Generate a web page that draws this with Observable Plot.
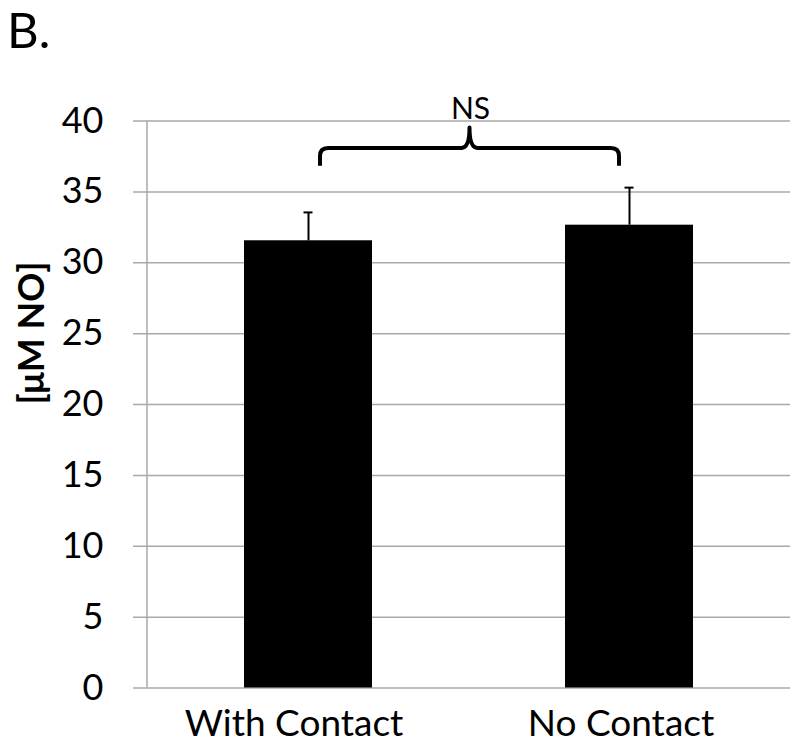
<!DOCTYPE html>
<html>
<head>
<meta charset="utf-8">
<script src="https://cdn.jsdelivr.net/npm/d3@7"></script>
<script src="https://cdn.jsdelivr.net/npm/@observablehq/plot@0.6"></script>
<style>
  html, body { margin: 0; padding: 0; background: #fff; }
  #chart svg { display: block; }
</style>
</head>
<body>
<div id="chart"></div>
<script>
const categories = ["With Contact", "No Contact"];
const means = [31.55, 32.65];
const upperErrors = [33.55, 35.3];
const yTicks = [0, 5, 10, 15, 20, 25, 30, 35, 40];
const yLabel = "[μM NO]";
const panelLabel = "B.";
const sigLabel = "NS";

const data = categories.map((c, i) => ({cat: c, mean: means[i], upper: upperErrors[i]}));

const FONT = "Lato, 'Open Sans', sans-serif";
const GRID = "#a9a9a9";
const labelShift = [-14, -8];

function annotations(index, scales, values, dims) {
  const g = d3.create("svg:g");
  const x = scales.x, y = scales.y;
  const bw = x.bandwidth();
  // y-axis line
  g.append("line")
    .attr("x1", dims.marginLeft).attr("x2", dims.marginLeft)
    .attr("y1", y(40)).attr("y2", y(0))
    .attr("stroke", GRID).attr("stroke-width", 1.5);
  // category labels
  categories.forEach((c, i) => {
    g.append("text")
      .attr("x", x(c) + bw / 2 + labelShift[i]).attr("y", y(0) + 48)
      .attr("text-anchor", "middle")
      .attr("font-family", FONT).attr("font-size", 37)
      .attr("fill", "#000")
      .text(c);
  });
  // panel label
  g.append("text")
    .attr("x", 7).attr("y", 47.5)
    .attr("text-anchor", "start")
    .attr("font-family", FONT).attr("font-size", 49)
    .attr("fill", "#000")
    .text(panelLabel);
  // brace
  const x0 = x(categories[0]) + bw / 2 + 12;
  const x1 = x(categories[1]) + bw / 2 - 10;
  const xm = (x0 + x1) / 2;
  const yH = y(38.06), yEnd = y(36.8), yPk = y(39.5);
  const r = 8;
  const path = `M${x0},${yEnd} L${x0},${yH + r} Q${x0},${yH} ${x0 + r},${yH} L${xm - r},${yH} Q${xm},${yH} ${xm},${yPk} Q${xm},${yH} ${xm + r},${yH} L${x1 - r},${yH} Q${x1},${yH} ${x1},${yH + r} L${x1},${yEnd}`;
  g.append("path").attr("d", path).attr("fill", "none")
    .attr("stroke", "#000").attr("stroke-width", 4).attr("stroke-linejoin", "round");
  g.append("text")
    .attr("x", xm + 1).attr("y", y(40.1))
    .attr("text-anchor", "middle")
    .attr("font-family", FONT).attr("font-size", 30)
    .attr("fill", "#000")
    .text(sigLabel);
  return g.node();
}

const plot = Plot.plot({
  width: 800,
  height: 746,
  marginLeft: 147,
  marginRight: 10,
  marginTop: 120.5,
  marginBottom: 58.5,
  style: {fontFamily: FONT, background: "#fff"},
  x: {domain: categories, paddingInner: 0.6, paddingOuter: 0.3, axis: null},
  y: {domain: [0, 40]},
  marks: [
    Plot.ruleY(yTicks, {stroke: GRID, strokeWidth: 1.5, insetLeft: -14}),
    Plot.barY(data, {x: "cat", y: "mean", fill: "#000"}),
    Plot.ruleX(data, {x: "cat", y1: "mean", y2: "upper", stroke: "#000", strokeWidth: 2}),
    Plot.tickY(data, {x: "cat", y: "upper", stroke: "#000", strokeWidth: 2, insetLeft: 59.5, insetRight: 59.5}),
    Plot.axisY({ticks: yTicks, tickSize: 0, tickPadding: 44, fontSize: 36, label: null, fill: "#000"}),
    Plot.text([yLabel], {frameAnchor: "left", text: d => d, rotate: -90, dx: -115.5, fontSize: 36, fontWeight: "bold", lineAnchor: "middle", fill: "#000"}),
    annotations
  ]
});
document.getElementById("chart").appendChild(plot);
</script>
</body>
</html>
